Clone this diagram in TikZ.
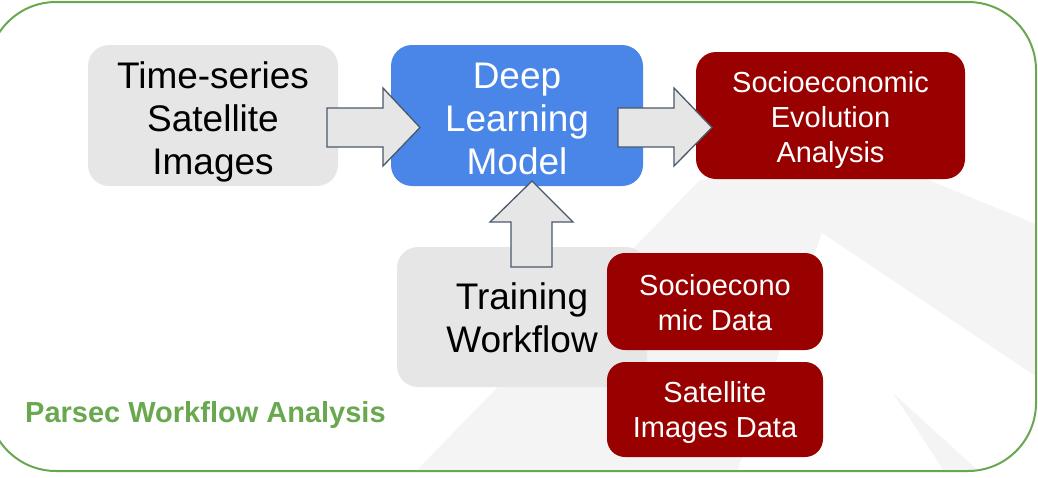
\documentclass[tikz,border=0pt]{standalone}
\usepackage{fontspec}
\setmainfont{Liberation Sans}
\usepackage{xcolor}
\usepackage{tikz}
\usetikzlibrary{calc}

\definecolor{framegreen}{HTML}{6AA84F}
\definecolor{boxgrey}{HTML}{E6E6E6}
\definecolor{modelblue}{HTML}{4A86E8}
\definecolor{datared}{HTML}{990000}
\definecolor{arrowedge}{HTML}{4B5869}
\definecolor{faint}{HTML}{F4F4F4}

\begin{document}
\begin{tikzpicture}[x=1pt,y=-1pt,
  greybox/.style={fill=boxgrey,rounded corners=21pt,inner sep=0pt,align=center,
    text depth=0pt,font=\fontsize{37}{43}\selectfont},
  bluebox/.style={greybox,fill=modelblue,text=white},
  redbox/.style={fill=datared,rounded corners=18pt,inner sep=0pt,align=center,
    text depth=0pt,text=white,font=\fontsize{29}{35}\selectfont},
  blockarrow/.style={fill=boxgrey,draw=arrowedge,line width=1.3pt,line join=miter}]
\useasboundingbox (0,0) rectangle (1038,477);

% Faint background
\begin{scope}
\clip[rounded corners=68pt] (-12,2) rectangle (1036,471);
\fill[faint] (410,477) -- (700,180) -- (880,160) -- (1038,225) -- (1038,477) -- cycle;
\fill[white] (822,233) -- (1038,378) -- (1038,477) -- (735,477) -- cycle;
\fill[faint] (893,393) -- (985,477) -- (948,477) -- cycle;
\end{scope}

% Frame
\draw[framegreen,line width=2pt,rounded corners=68pt] (-12,2) rectangle (1036,471);

% Boxes
\node[greybox,text height=117pt,minimum width=250pt,minimum height=141pt] (images) at (213,115.5) {Time-series\\Satellite\\Images};
\node[bluebox,text height=117pt,minimum width=252pt,minimum height=141pt] (model) at (517,115.5) {Deep\\Learning\\Model};
\node[redbox,text height=93pt,minimum width=269pt,minimum height=127pt,rounded corners=20pt] (evolution) at (830.5,115.5) {Socioeconomic\\Evolution\\Analysis};
\node[greybox,text height=70pt,minimum width=250pt,minimum height=140pt] (training) at (522,317) {Training\\Workflow};
\node[redbox,text height=57pt,minimum width=216pt,minimum height=97pt] (socio) at (715,301.5) {Socioecono\\mic Data};
\node[redbox,text height=55pt,minimum width=216pt,minimum height=95pt] (satdata) at (715,409.5) {Satellite\\Images Data};

% Block arrows
\draw[blockarrow] (327,108) -- (383,108) -- (383,88) -- (420,127.5) -- (383,166) -- (383,147) -- (327,147) -- cycle;
\draw[blockarrow] (618,108) -- (674,108) -- (674,88) -- (712,127.5) -- (674,166) -- (674,147) -- (618,147) -- cycle;
\draw[blockarrow] (511,267) -- (511,222) -- (490,222) -- (532,181) -- (573,222) -- (552,222) -- (552,267) -- cycle;

% Label
\node[font=\bfseries\fontsize{29}{35}\selectfont,text=framegreen,anchor=west,inner sep=0pt] (title) at (25,415) {Parsec Workflow Analysis};
\end{tikzpicture}
\end{document}
